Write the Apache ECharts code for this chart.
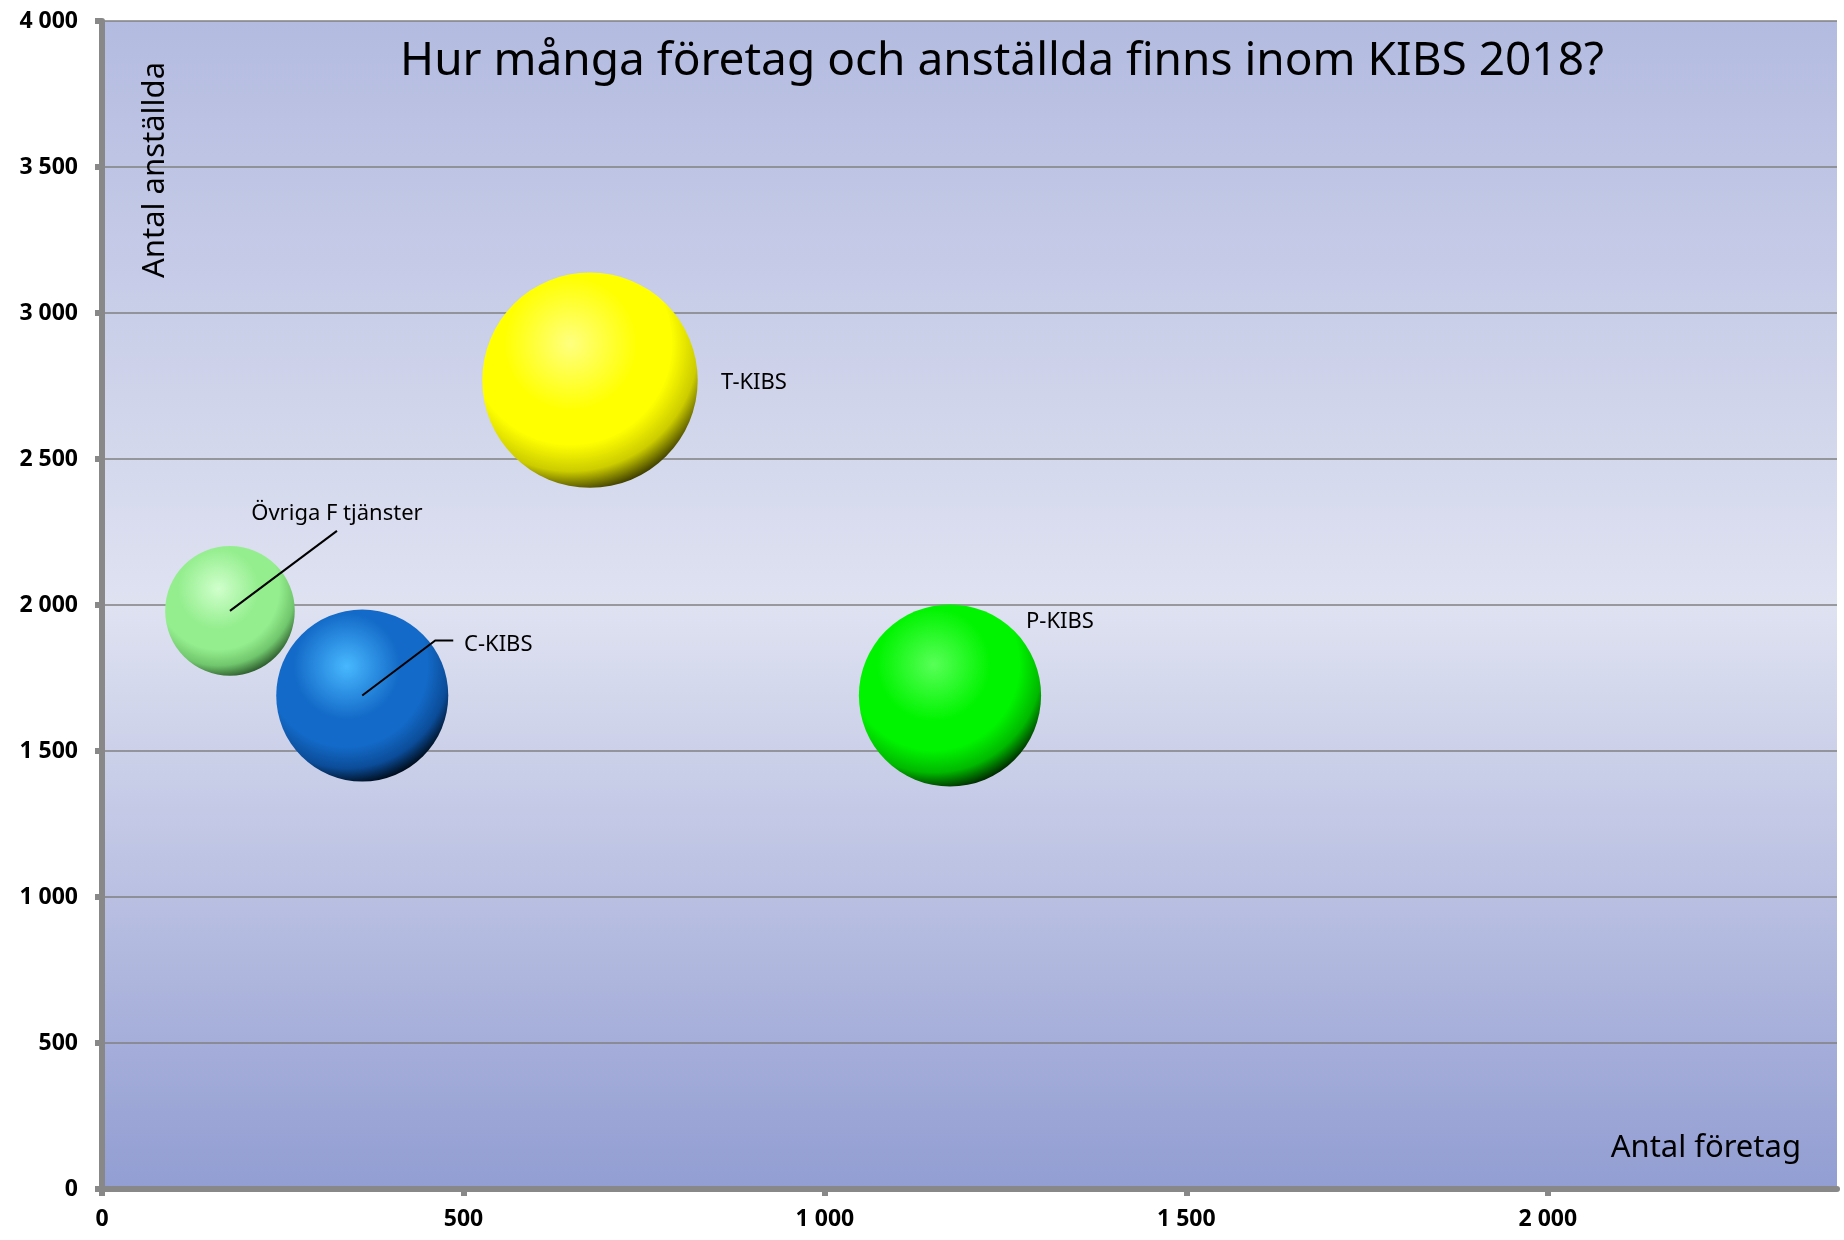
<!DOCTYPE html>
<html>
<head>
<meta charset="utf-8">
<title>KIBS 2018</title>
<script src="https://cdn.jsdelivr.net/npm/echarts@6/dist/echarts.min.js"></script>
<style>
  html, body { margin: 0; padding: 0; background: #fff; }
  #chart { width: 1844px; height: 1240px; }
</style>
</head>
<body>
<div id="chart"></div>
<script>
// data
const names = ['Övriga F tjänster', 'C-KIBS', 'T-KIBS', 'P-KIBS']
const antalForetag = [177, 360, 675, 1173]
const antalAnstallda = [1980, 1690, 2770, 1690]
const bubbleSize = [42, 74, 116, 83]
const xTicks = [0, 500, 1000, 1500, 2000]

// sphere colours: highlight, base, shade, dark
const sphereColors = [
  ['#d0ffcc', '#94ee8e', '#70c66c', '#2e5e2e'],
  ['#48b8ff', '#136ac8', '#0b4c98', '#000d1c'],
  ['#ffff80', '#ffff00', '#cccc00', '#404000'],
  ['#58ff58', '#00f400', '#00b800', '#002c00']
]

// label offsets (px from bubble centre) and leader lines
const labelOffsets = [[107, -97], [136, -51], [164, 3], [110, -74]]
const leaderLines = {
  0: [[107, -80]],
  1: [[73, -55], [91, -55]]
}

const fontFamily = '"Noto Sans", "Open Sans", sans-serif'

const fmt = v => String(v).replace(/\B(?=(\d{3})+(?!\d))/g, ' ')

const sphere = c => new echarts.graphic.RadialGradient(0.41, 0.33, 0.69, [
  { offset: 0, color: c[0] },
  { offset: 0.45, color: c[1] },
  { offset: 0.68, color: c[1] },
  { offset: 0.86, color: c[2] },
  { offset: 1, color: c[3] }
])

const scatterData = names.map((n, i) => ({
  name: n,
  value: [antalForetag[i], antalAnstallda[i], bubbleSize[i]],
  itemStyle: { color: sphere(sphereColors[i]), opacity: 1 },
  label: { offset: labelOffsets[i] }
}))

const chart = echarts.init(document.getElementById('chart'))

const option = {
  backgroundColor: '#ffffff',
  animation: false,
  textStyle: { fontFamily },
  title: {
    text: 'Hur många företag och anställda finns inom KIBS 2018?',
    left: 1002,
    top: 39,
    padding: 0,
    textAlign: 'center',
    textStyle: { fontSize: 46, fontWeight: 'normal', color: '#000', fontFamily }
  },
  grid: {
    left: 102,
    right: 7,
    top: 21,
    bottom: 51,
    show: true,
    borderWidth: 0,
    backgroundColor: new echarts.graphic.LinearGradient(0, 0, 0, 1, [
      { offset: 0, color: '#b3bbe0' },
      { offset: 0.5, color: '#dfe2f1' },
      { offset: 1, color: '#929dd2' }
    ])
  },
  xAxis: {
    type: 'value',
    min: 0,
    max: 2400,
    interval: 500,
    axisLine: { show: true, lineStyle: { color: '#888', width: 6 } },
    axisTick: { show: true, length: 7, customValues: xTicks, lineStyle: { color: '#888', width: 6 } },
    axisLabel: {
      customValues: xTicks,
      margin: 19,
      fontSize: 23,
      fontWeight: 'bold',
      color: '#000',
      fontFamily,
      formatter: fmt
    },
    splitLine: { show: false }
  },
  yAxis: {
    type: 'value',
    min: 0,
    max: 4000,
    interval: 500,
    axisLine: { show: true, lineStyle: { color: '#888', width: 6 } },
    axisTick: { show: true, length: 7, lineStyle: { color: '#888', width: 6 } },
    axisLabel: {
      margin: 24,
      fontSize: 23,
      fontWeight: 'bold',
      color: '#000',
      fontFamily,
      formatter: fmt
    },
    splitLine: { show: true, lineStyle: { color: '#808080', width: 1.5 } }
  },
  graphic: [
    {
      type: 'text',
      x: 155,
      y: 170,
      rotation: Math.PI / 2,
      z: 10,
      style: {
        text: 'Antal anställda',
        fontSize: 31,
        fontFamily,
        fill: '#000',
        align: 'center',
        verticalAlign: 'middle'
      }
    },
    {
      type: 'text',
      x: 1801,
      y: 1148,
      z: 10,
      style: {
        text: 'Antal företag',
        fontSize: 31,
        fontFamily,
        fill: '#000',
        align: 'right',
        verticalAlign: 'middle'
      }
    }
  ],
  series: [
    {
      type: 'scatter',
      data: scatterData,
      symbol: 'circle',
      symbolSize: v => 20 * Math.sqrt(v[2]),
      label: {
        show: true,
        position: 'inside',
        formatter: '{b}',
        fontSize: 22,
        color: '#000',
        fontFamily
      },
      emphasis: { disabled: true }
    },
    {
      type: 'custom',
      z: 5,
      silent: true,
      data: Object.keys(leaderLines).map(i => [antalForetag[i], antalAnstallda[i], Number(i)]),
      renderItem: (params, api) => {
        const p = api.coord([api.value(0), api.value(1)])
        const offs = leaderLines[api.value(2)]
        const points = [p].concat(offs.map(o => [p[0] + o[0], p[1] + o[1]]))
        return {
          type: 'polyline',
          shape: { points },
          style: { stroke: '#000', lineWidth: 2, fill: null }
        }
      }
    }
  ]
}

chart.setOption(option)
</script>
</body>
</html>
